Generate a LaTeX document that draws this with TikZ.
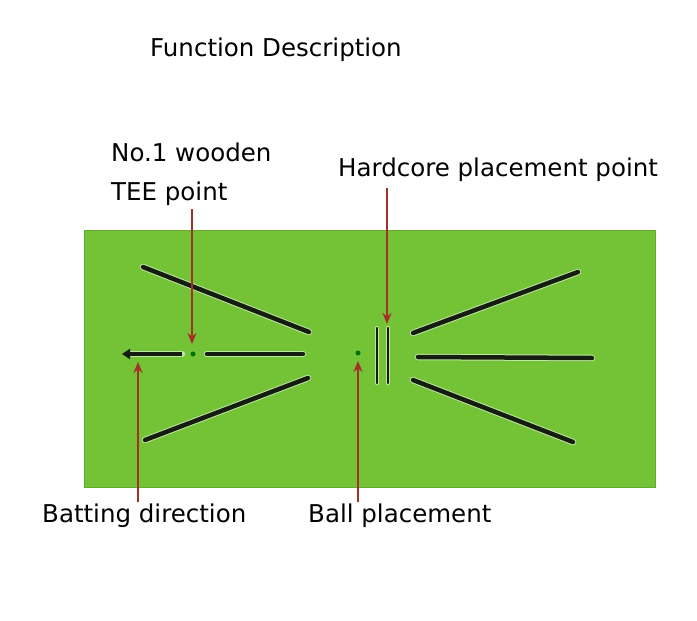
\documentclass[tikz,border=0pt]{standalone}
\usepackage{fontspec}
\setmainfont{DejaVu Sans}
\usetikzlibrary{arrows.meta}
\definecolor{mat}{RGB}{116,194,54}
\definecolor{matedge}{RGB}{100,168,46}
\definecolor{pointer}{RGB}{165,48,40}
\definecolor{groove}{RGB}{20,30,15}
\tikzset{
  lbl/.style={inner sep=0pt, anchor=west, font=\fontsize{24.5}{28}\selectfont},
  groovehalo/.style={line width=6.5pt, draw=white!55!mat, line cap=round},
  grooveline/.style={line width=4.5pt, draw=groove, line cap=round},
  pointerarrow/.style={draw=pointer, line width=2pt, -{Stealth[length=11pt,width=9pt]}},
  spot/.style={circle, fill=green!45!black, inner sep=0pt, minimum size=5pt}
}
\begin{document}
\begin{tikzpicture}[x=1pt,y=-1pt]
\useasboundingbox[fill=white] (0,0) rectangle (697,621);
% mat
\node[draw=matedge, fill=mat, line width=1pt, minimum width=571pt, minimum height=257pt, inner sep=0pt, anchor=north west] (mat) at (84,230) {};
% grooves (halo)
\foreach \a/\b in {{143,267}/{309,332},{145,440}/{308,378},{413,333}/{578,272},{418,357}/{592,358},{413,380}/{573,442},{207,354}/{303,354},{130,354}/{182,354}}
  \draw[groovehalo] (\a) -- (\b);
\foreach \a/\b in {{377,328}/{377,383},{388,328}/{388,383}}
  \draw[line width=4.5pt, draw=white!55!mat, line cap=round] (\a) -- (\b);
% grooves
\coordinate (ul1) at (143,267); \coordinate (ul2) at (309,332);
\coordinate (ll1) at (145,440); \coordinate (ll2) at (308,378);
\coordinate (ur1) at (413,333); \coordinate (ur2) at (578,272);
\coordinate (mr1) at (418,357); \coordinate (mr2) at (592,358);
\coordinate (lr1) at (413,380); \coordinate (lr2) at (573,442);
\coordinate (ml1) at (207,354); \coordinate (ml2) at (303,354);
\coordinate (tip) at (122,354); \coordinate (ml3) at (182,354);
\draw[grooveline] (ul1) -- (ul2);
\draw[grooveline] (ll1) -- (ll2);
\draw[grooveline] (ur1) -- (ur2);
\draw[grooveline] (mr1) -- (mr2);
\draw[grooveline] (lr1) -- (lr2);
\draw[grooveline] (ml1) -- (ml2);
\draw[line width=4.5pt, draw=groove, -{Triangle[length=8pt,width=10pt]}] (ml3) -- (tip);
\draw[line width=2.5pt, draw=groove, line cap=round] (377,328) -- (377,383);
\draw[line width=2.5pt, draw=groove, line cap=round] (388,328) -- (388,383);
% spots
\node[spot] (tee) at (193,354) {};
\node[spot] (ball) at (358,353) {};
% labels
\node[lbl] (title) at (150,50) {Function Description};
\node[lbl] (no1) at (111,152) {No.1 wooden};
\node[lbl] (teel) at (111,194) {TEE point};
\node[lbl] (hard) at (338,170) {Hardcore placement point};
\node[lbl] (bat) at (42,516) {Batting direction};
\node[lbl] (balll) at (308,516) {Ball placement};
% pointer arrows
\coordinate (teeS) at (192,209); \coordinate (teeE) at (192,344);
\coordinate (hardS) at (387,188); \coordinate (hardE) at (387,324);
\coordinate (batS) at (138,502); \coordinate (batE) at (138,362);
\coordinate (ballS) at (358,502); \coordinate (ballE) at (358,361);
\draw[pointerarrow] (teeS) -- (teeE);
\draw[pointerarrow] (hardS) -- (hardE);
\draw[pointerarrow] (batS) -- (batE);
\draw[pointerarrow] (ballS) -- (ballE);
\end{tikzpicture}
\end{document}
